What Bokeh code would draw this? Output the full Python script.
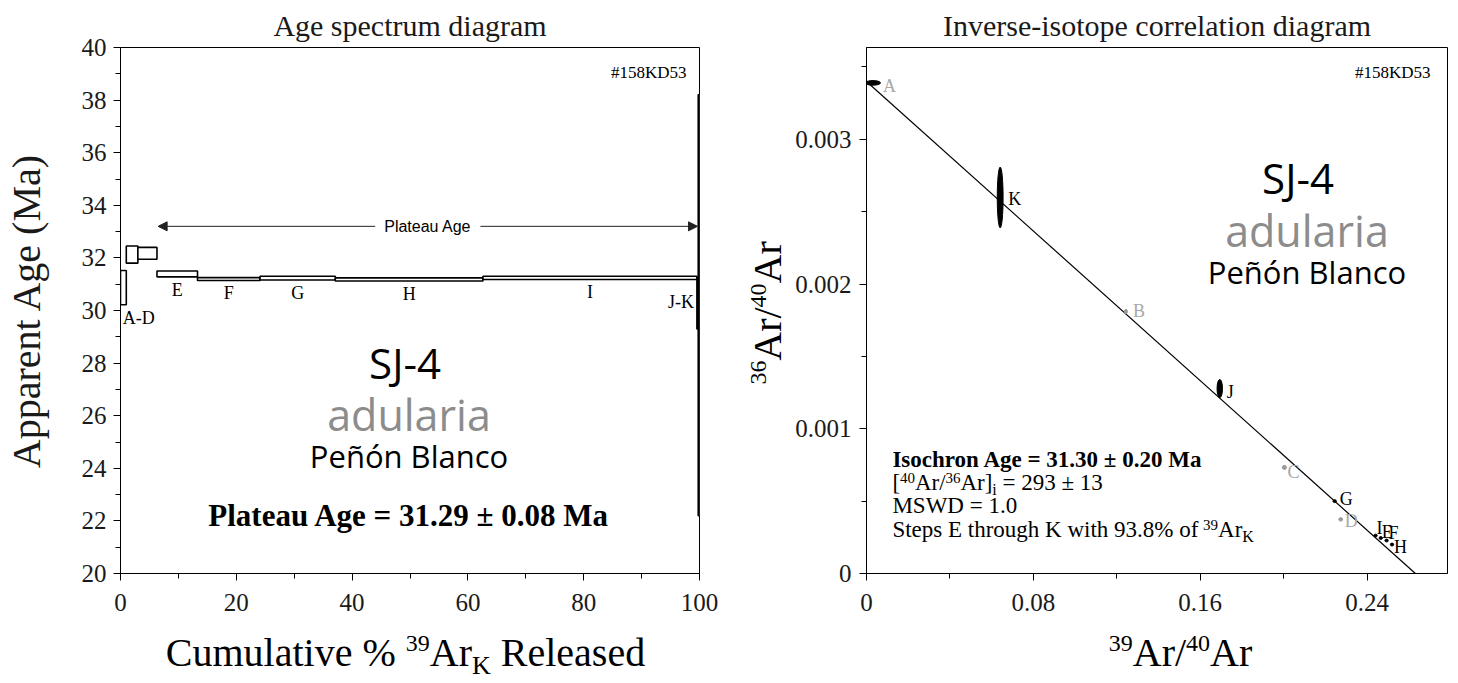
import math
from bokeh.plotting import figure
from bokeh.models import Range1d, FixedTicker, CustomJSTickFormatter, Label, Arrow, NormalHead
from bokeh.layouts import row, column
from bokeh.embed import file_html
from bokeh.resources import INLINE

SERIF = "Liberation Serif"
SANS = "Open Sans"
ARIAL = "Liberation Sans"
# distance from the font-box middle to the alphabetic baseline, in em
MID_TO_BASE = {SERIF: 0.3375, SANS: 0.388, ARIAL: 0.347}

# ---------------- Age spectrum data ----------------
spec_cum_start = [0.0, 1.0, 3.0, 6.3, 13.3, 24.1, 37.1, 62.6, 99.55, 99.78]
spec_cum_end = [1.0, 3.0, 6.3, 13.3, 24.1, 37.1, 62.6, 99.55, 99.78, 100.0]
spec_age_low = [30.22, 31.80, 31.95, 31.28, 31.14, 31.16, 31.12, 31.18, 29.30, 22.2]
spec_age_high = [31.52, 32.45, 32.40, 31.50, 31.25, 31.30, 31.24, 31.30, 31.25, 38.2]
spec_group_names = ["A-D", "E", "F", "G", "H", "I", "J-K"]
spec_group_first = [0, 3, 4, 5, 6, 7, 8]
spec_group_last = [2, 3, 4, 5, 6, 7, 9]
plateau_start = 6.5
plateau_end = 99.65
plateau_arrow_age = 33.2
plateau_label = "Plateau Age"
plateau_text = "Plateau Age = 31.29 ± 0.08 Ma"
sample_id = "#158KD53"
sample_name = "SJ-4"
mineral = "adularia"
locality = "Peñón Blanco"

# ---------------- Inverse isochron data ----------------
iso_steps = ["A", "B", "C", "D", "E", "F", "G", "H", "I", "J", "K"]
iso_x = [0.0031, 0.1244, 0.2004, 0.2274, 0.2466, 0.2494, 0.2245, 0.2520, 0.2441, 0.1694, 0.0641]
iso_y = [0.00339, 0.00181, 0.000733, 0.000374, 0.000245, 0.000228, 0.000500, 0.000200, 0.000262, 0.001278, 0.002598]
iso_x_err = [0.0036, 0.0007, 0.0010, 0.0009, 0.0008, 0.0008, 0.0008, 0.0008, 0.0008, 0.0013, 0.0014]
iso_y_err = [0.000016, 0.000015, 0.000014, 0.000012, 0.000010, 0.000010, 0.000010, 0.000010, 0.000010, 0.000063, 0.00021]
iso_included = [False, False, False, False, True, True, True, True, True, True, True]
isochron_y_intercept = 0.00340
isochron_x_intercept = 0.2632
iso_line1 = "Isochron Age = 31.30 ± 0.20 Ma"
iso_line3 = "MSWD = 1.0"

# ---------------- geometry (page pixels) ----------------
L_W = 740
YS_W = 52
R_W = 1454 - L_W - YS_W
TOP_H = 631
STRIP_H = 683 - TOP_H
L_X0, L_X1 = 117, 699
R_X0, R_X1 = 864, 1447
Y_TOP, Y_BOT = 46, 573
R_XMAX = 0.2786
R_YMAX = (Y_BOT - Y_TOP) / 145000.0

# Liberation Serif (Times metrics) advance widths, 1/1000 em
TNR = {" ": 250, "[": 333, "]": 333, "/": 278, "A": 722, "r": 333, "=": 564, "±": 549,
       "i": 278, "K": 722, "%": 833, "C": 667, "u": 500, "m": 778, "l": 278, "a": 444,
       "t": 278, "v": 500, "e": 444, "R": 667, "s": 389, "d": 500, "o": 500, "f": 333,
       "S": 556, "p": 500, "E": 611, "h": 500, "g": 500, "w": 722, ".": 250}


def text_width(s, size):
    return sum(TNR.get(c, 500) for c in s) / 1000.0 * size


def lx(px):
    return (px - L_X0) / (L_X1 - L_X0) * 100.0


def ly(py):
    return 20.0 + (Y_BOT - py) / (Y_BOT - Y_TOP) * 20.0


def rx(px):
    return (px - R_X0) / (R_X1 - R_X0) * R_XMAX


def ry(py):
    return (Y_BOT - py) / (Y_BOT - Y_TOP) * R_YMAX


def ident(v):
    return v


def lpx_y(age):
    return Y_BOT - (age - 20.0) / 20.0 * (Y_BOT - Y_TOP)


def add_text(p, x, y, text, size, font=SERIF, color="black", align="left",
             baseline="middle", style="normal", angle=0.0, **kw):
    p.add_layout(Label(x=x, y=y, text=text, text_font=font, text_font_size=f"{size}px",
                       text_color=color, text_align=align, text_baseline=baseline,
                       text_font_style=style, angle=angle, **kw))


def put(p, fx, fy, px, py, text, size, font=SERIF, color="black", align="left",
        style="normal", vertical=False):
    """Place text with its alphabetic baseline at page pixel (px, py)."""
    shift = MID_TO_BASE[font] * size
    if vertical:
        add_text(p, fx(px - shift), fy(py), text, size, font, color, align,
                 "middle", style, math.pi / 2)
    else:
        add_text(p, fx(px), fy(py - shift), text, size, font, color, align, "middle", style)


def add_runs(p, px, py, runs, fx, fy, align="left", vertical=False):
    """runs: (text, size, shift_px) on one baseline; shift > 0 lowers (subscript)."""
    total = sum(text_width(t, s) for t, s, d in runs)
    pos = px if not vertical else py
    if align == "center":
        pos = pos - total / 2.0 if not vertical else pos + total / 2.0
    for t, s, d in runs:
        stripped = t.lstrip(" ")
        lead = text_width(t[:len(t) - len(stripped)], s)
        if not vertical:
            pos += lead
            put(p, fx, fy, pos, py + d, stripped, s)
            pos += text_width(stripped, s)
        else:
            pos -= lead
            put(p, fx, fy, px + d, pos, stripped, s, vertical=True)
            pos -= text_width(stripped, s)


def style_axis(ax, ticks, minor, standoff):
    ax.ticker = FixedTicker(ticks=ticks, minor_ticks=minor)
    ax.formatter = CustomJSTickFormatter(code="return tick.toString()")
    ax.major_label_text_font = SERIF
    ax.major_label_text_font_size = "25px"
    ax.major_label_text_color = "#1a1a1a"
    ax.axis_line_color = "black"
    ax.axis_line_width = 1
    ax.major_tick_line_color = "black"
    ax.minor_tick_line_color = "black"
    ax.major_tick_out = 7
    ax.major_tick_in = 0
    ax.minor_tick_out = 5
    ax.minor_tick_in = 0
    ax.major_label_standoff = standoff
    ax.axis_label = None
    ax.axis_label_text_font = SERIF
    ax.axis_label_text_font_size = "40px"
    ax.axis_label_text_font_style = "normal"
    ax.axis_label_text_color = "#1a1a1a"


def style_title(p, text, offset):
    p.title.text = text
    p.title.align = "center"
    p.title.offset = offset
    p.title.text_font = SERIF
    p.title.text_font_size = "30px"
    p.title.text_font_style = "normal"
    p.title.text_color = "#1a1a1a"
    p.title.standoff = 12


def base_style(p):
    p.xgrid.visible = False
    p.ygrid.visible = False
    p.outline_line_color = "black"
    p.outline_line_width = 1
    p.background_fill_color = "white"
    p.border_fill_color = "white"


def blank(p):
    p.xgrid.visible = False
    p.ygrid.visible = False
    p.outline_line_color = None
    p.background_fill_color = "white"
    p.border_fill_color = "white"


# ================= Left: age spectrum =================
p1 = figure(width=L_W, height=TOP_H, x_range=Range1d(0, 100), y_range=Range1d(20, 40),
            output_backend="svg", toolbar_location=None,
            min_border_left=L_X0, min_border_right=L_W - L_X1,
            min_border_top=Y_TOP, min_border_bottom=TOP_H - Y_BOT)
base_style(p1)
style_title(p1, "Age spectrum diagram", -3)
style_axis(p1.xaxis[0], [0, 20, 40, 60, 80, 100], [10, 30, 50, 70, 90], 13)
style_axis(p1.yaxis[0], list(range(20, 41, 2)), list(range(21, 40, 2)), 7)
p1.yaxis[0].axis_label = "Apparent Age (Ma)"
p1.yaxis[0].axis_label_standoff = 30

p1.quad(left=spec_cum_start, right=spec_cum_end, bottom=spec_age_low, top=spec_age_high,
        fill_color="white", line_color="black", line_width=1.6)

for name, i0, i1 in zip(spec_group_names, spec_group_first, spec_group_last):
    if name == "J-K":
        ypx = lpx_y(spec_age_high[i0]) + 24
        xpx = L_X0 + spec_cum_start[i0] / 100.0 * (L_X1 - L_X0) - 3
        add_text(p1, lx(xpx), ly(ypx), name, 18, align="right")
    else:
        ypx = lpx_y(spec_age_low[i0]) + 13
        xc = (spec_cum_start[i0] + spec_cum_end[i1]) / 2.0
        add_text(p1, xc, ly(ypx), name, 18, align="center")

p1.add_layout(Arrow(x_start=plateau_start, y_start=plateau_arrow_age,
                    x_end=plateau_end, y_end=plateau_arrow_age,
                    start=NormalHead(size=9, fill_color="#222222", line_color="#222222"),
                    end=NormalHead(size=9, fill_color="#222222", line_color="#222222"),
                    line_color="#222222", line_width=1))
add_text(p1, (plateau_start + plateau_end) / 2.0, plateau_arrow_age, plateau_label, 16,
         font=ARIAL, align="center", background_fill_color="white", padding=9)

put(p1, lx, ly, 686, 77, sample_id, 17, align="right")
put(p1, lx, ly, 403, 378, sample_name, 42, font=SANS, align="center")
put(p1, lx, ly, 407, 430, mineral, 43, font=SANS, color="#8c8c8c", align="center")
put(p1, lx, ly, 407, 467, locality, 31, font=SANS, align="center")
put(p1, lx, ly, 407, 525, plateau_text, 31, style="bold", align="center")

# ================= y-label strip for the right panel =================
ys = figure(width=YS_W, height=TOP_H, x_range=Range1d(L_W, L_W + YS_W),
            y_range=Range1d(Y_BOT, Y_TOP), output_backend="svg", toolbar_location=None,
            x_axis_location=None, y_axis_location=None, title=None,
            min_border_left=0, min_border_right=0,
            min_border_top=Y_TOP, min_border_bottom=TOP_H - Y_BOT)
blank(ys)
add_runs(ys, 780, 312, [("36", 24, -14), ("Ar/", 40, 0), ("40", 24, -14), ("Ar", 40, 0)],
         ident, ident, align="center", vertical=True)

# ================= Right: inverse isochron =================
p2 = figure(width=R_W, height=TOP_H, x_range=Range1d(0, R_XMAX), y_range=Range1d(0, R_YMAX),
            output_backend="svg", toolbar_location=None,
            min_border_left=R_X0 - L_W - YS_W, min_border_right=1454 - R_X1,
            min_border_top=Y_TOP, min_border_bottom=TOP_H - Y_BOT)
base_style(p2)
style_title(p2, "Inverse-isotope correlation diagram", 6)
style_axis(p2.xaxis[0], [0, 0.08, 0.16, 0.24], [0.04, 0.12, 0.2], 13)
style_axis(p2.yaxis[0], [0, 0.001, 0.002, 0.003], [0.0005, 0.0015, 0.0025, 0.0035], 8)

p2.line([0, isochron_x_intercept], [isochron_y_intercept, 0], line_color="black", line_width=1.2)

colors = ["black" if (inc or name == "A") else "#9a9a9a" for name, inc in zip(iso_steps, iso_included)]
p2.ellipse(x=iso_x, y=iso_y, width=[2 * e for e in iso_x_err], height=[2 * e for e in iso_y_err],
           fill_color=colors, line_color=colors, line_width=1)

label_offsets = {"A": (10, 3), "B": (7, -1), "C": (3, 5), "D": (4, 2), "E": (1, -6),
                 "F": (2, -8), "G": (5, -2), "H": (2, 2), "I": (1, -8), "J": (7, 3), "K": (8, 1)}
px_per_x = (R_X1 - R_X0) / R_XMAX
px_per_y = (Y_BOT - Y_TOP) / R_YMAX
for name, x, y, inc in zip(iso_steps, iso_x, iso_y, iso_included):
    dx, dy = label_offsets[name]
    add_text(p2, x + dx / px_per_x, y - dy / px_per_y, name, 18,
             color="black" if inc else "#a8a8a8")

put(p2, rx, ry, 1430, 77, sample_id, 17, align="right")
put(p2, rx, ry, 1297, 193, sample_name, 42, font=SANS, align="center")
put(p2, rx, ry, 1306, 246, mineral, 43, font=SANS, color="#8c8c8c", align="center")
put(p2, rx, ry, 1306, 283, locality, 31, font=SANS, align="center")

put(p2, rx, ry, 890, 467, iso_line1, 23, style="bold")
add_runs(p2, 890, 490, [("[", 23, 0), ("40", 15, -8), ("Ar/", 23, 0), ("36", 15, -8),
                        ("Ar]", 23, 0), ("i", 16, 4), (" = 293 ± 13", 23, 0)], rx, ry)
put(p2, rx, ry, 890, 513, iso_line3, 23)
add_runs(p2, 890, 537, [("Steps E through K with 93.8% of ", 23, 0), ("39", 15, -8),
                        ("Ar", 23, 0), ("K", 16, 4)], rx, ry)


# ================= x-axis label strips =================
def strip(width, x0, x1, bl, br):
    s = figure(width=width, height=STRIP_H, x_range=Range1d(x0, x1),
               y_range=Range1d(TOP_H + STRIP_H, TOP_H), output_backend="svg",
               toolbar_location=None, x_axis_location=None, y_axis_location=None,
               title=None, min_border_left=bl, min_border_right=br,
               min_border_top=0, min_border_bottom=0)
    blank(s)
    return s


s1 = strip(L_W, L_X0, L_X1, L_X0, L_W - L_X1)
add_runs(s1, 405, 665, [("Cumulative % ", 40, 0), ("39", 24, -14), ("Ar", 40, 0),
                        ("K", 26, 9), (" Released", 40, 0)], ident, ident, align="center")

s2 = strip(1454 - L_W, R_X0, R_X1, R_X0 - L_W, 1454 - R_X1)
add_runs(s2, 1180, 665, [("39", 24, -14), ("Ar/", 40, 0), ("40", 24, -14), ("Ar", 40, 0)],
         ident, ident, align="center")

layout = column(row(p1, ys, p2), row(s1, s2))
open("out.html", "w").write(file_html(layout, INLINE))
